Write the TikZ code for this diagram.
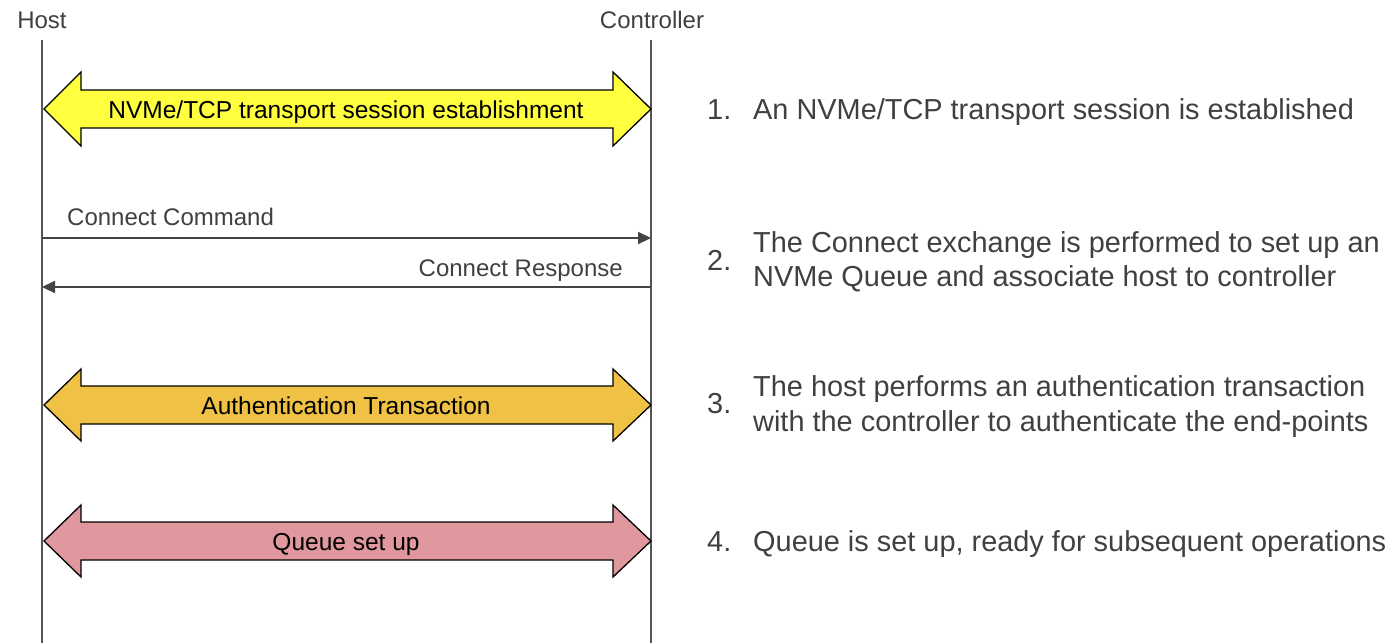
\documentclass[tikz,border=0pt]{standalone}
\usepackage{fontspec}
\setmainfont{Liberation Sans}
\usetikzlibrary{arrows.meta}
\definecolor{txt}{HTML}{404040}
\definecolor{lifeln}{HTML}{555555}
\definecolor{msgln}{HTML}{444444}
\definecolor{ylw}{HTML}{FFFF40}
\definecolor{gld}{HTML}{EFC144}
\definecolor{pnk}{HTML}{E0989E}
\newcommand{\dblarrowshape}[3]{%
  \filldraw[fill=#3, draw=black, line width=1.3pt, line join=miter]
    (44,#1) -- (81,{#1-#2}) -- (81,{#1-19}) -- (613,{#1-19}) -- (613,{#1-#2})
    -- (651,#1) -- (613,{#1+#2}) -- (613,{#1+19}) -- (81,{#1+19}) -- (81,{#1+#2}) -- cycle;}
\begin{document}
\begin{tikzpicture}[x=1pt,y=-1pt,
  actor/.style={inner sep=0, anchor=base, text=txt, font=\fontsize{24}{28}\selectfont},
  msglabel/.style={inner sep=0, text=txt, font=\fontsize{24}{28}\selectfont},
  bandlabel/.style={inner sep=0, anchor=base, text=black, font=\fontsize{24.5}{28}\selectfont},
  steptext/.style={inner sep=0, anchor=base west, text=txt, font=\fontsize{28.9}{34}\selectfont},
  lifeline/.style={draw=lifeln, line width=1.5pt},
  msg/.style={draw=msgln, line width=2.2pt, -{Triangle[length=13pt,width=12pt]}}]
\useasboundingbox (0,0) rectangle (1392,643);
% actors
\node[actor] (host) at (42,28) {Host};
\node[actor] (ctrl) at (652,28) {Controller};
\coordinate (htop) at (42,40);
\coordinate (hbot) at (42,643);
\coordinate (ctop) at (651,40);
\coordinate (cbot) at (651,643);
\draw[lifeline] (htop) -- (hbot);
\draw[lifeline] (ctop) -- (cbot);
% band 1
\dblarrowshape{109}{37}{ylw}
\node[bandlabel] (b1) at (346,118) {NVMe/TCP transport session establishment};
% connect exchange
\coordinate (cmdS) at (42,238);
\coordinate (cmdE) at (651,238);
\coordinate (rspS) at (651,287);
\coordinate (rspE) at (42,287);
\draw[msg] (cmdS) -- (cmdE);
\draw[msg] (rspS) -- (rspE);
\node[msglabel, anchor=base west] (cmd) at (67,225) {Connect Command};
\node[msglabel, anchor=base east] (rsp) at (623,276) {Connect Response};
% band 2
\dblarrowshape{405}{36}{gld}
\node[bandlabel] (b2) at (346,414) {Authentication Transaction};
% band 3
\dblarrowshape{541}{36}{pnk}
\node[bandlabel] (b3) at (346,550) {Queue set up};
% steps
\node[steptext] (n1) at (707,119) {1.};
\node[steptext] (s1) at (753,119) {An NVMe/TCP transport session is established};
\node[steptext] (n2) at (707,270) {2.};
\node[steptext] (s2a) at (753,252) {The Connect exchange is performed to set up an};
\node[steptext] (s2b) at (753,286) {NVMe Queue and associate host to controller};
\node[steptext] (n3) at (707,413) {3.};
\node[steptext] (s3a) at (753,396) {The host performs an authentication transaction};
\node[steptext] (s3b) at (753,431) {with the controller to authenticate the end-points};
\node[steptext] (n4) at (707,551) {4.};
\node[steptext] (s4) at (753,551) {Queue is set up, ready for subsequent operations};
\end{tikzpicture}
\end{document}
